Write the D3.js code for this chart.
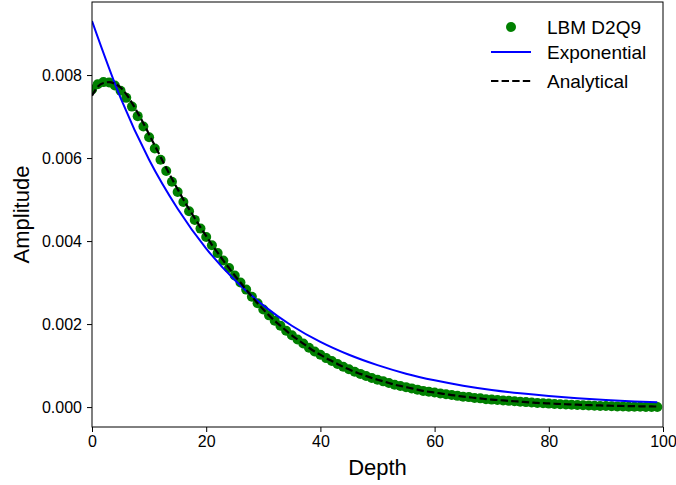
<!DOCTYPE html>
<html><head><meta charset="utf-8">
<script src="https://cdn.jsdelivr.net/npm/d3@7/dist/d3.min.js"></script>
<style>body{margin:0;background:#fff}text{font-family:"Liberation Sans",Arial,sans-serif}</style>
</head><body><svg id="c" width="676" height="485"></svg>
<script>
const depth = d3.range(0, 100);
const lbm = [0.00765,0.00778,0.00783,0.00782,0.00775,0.00762,0.00745,0.00724,0.00701,0.00676,
0.00650,0.00623,0.00596,0.00569,0.00543,0.00518,0.00494,0.00472,0.00451,0.00430,
0.00410,0.00390,0.00371,0.00353,0.00335,0.00317,0.00300,0.00283,0.00266,0.00250,
0.00235,0.00221,0.00208,0.00196,0.00184,0.00173,0.00163,0.00153,0.00143,0.00134,
0.00126,0.00118,0.00111,0.00104,0.00097,0.00091,0.00085,0.00080,0.00075,0.00070,
0.00066,0.00062,0.00058,0.00054,0.00051,0.00048,0.00045,0.00042,0.00039,0.00037,
0.00035,0.00033,0.00031,0.00029,0.00027,0.00025,0.00024,0.00022,0.00021,0.00019,
0.00018,0.00017,0.00016,0.00015,0.00014,0.00013,0.00012,0.00011,0.00010,0.000092,
0.000084,0.000076,0.000069,0.000062,0.000055,0.000049,0.000043,0.000038,0.000033,0.000028,
0.000024,0.000020,0.000016,0.000013,0.000010,0.000008,0.000006,0.000004,0.000002,0.000001];
const analytical = [0.00750,0.00772,0.00781,0.00783,0.00779,0.00770,0.00754,0.00733,0.00709,0.00684,
0.00657,0.00630,0.00603,0.00576,0.00550,0.00525,0.00500,0.00477,0.00455,0.00433,
0.00412,0.00391,0.00372,0.00353,0.00335,0.00317,0.00300,0.00283,0.00266,0.00250,
0.00235,0.00221,0.00208,0.00196,0.00184,0.00173,0.00163,0.00153,0.00143,0.00134,
0.00126,0.00118,0.00111,0.00104,0.00097,0.00091,0.00085,0.00080,0.00075,0.00070,
0.00066,0.00062,0.00058,0.00054,0.00051,0.00048,0.00045,0.00042,0.00039,0.00037,
0.00035,0.00033,0.00031,0.00029,0.00027,0.00025,0.00024,0.00022,0.00021,0.00019,
0.00018,0.00017,0.00016,0.00015,0.00014,0.00013,0.00012,0.00011,0.00010,0.000094,
0.000087,0.000080,0.000074,0.000068,0.000062,0.000057,0.000052,0.000047,0.000043,0.000039,
0.000035,0.000032,0.000029,0.000026,0.000023,0.000021,0.000019,0.000017,0.000015,0.000013];
const expDepth = [0,5,10,15,20,25,30,35,40,45,50,55,60,65,70,75,80,85,90,95,99];
const expVals = [0.00930,0.00745,0.00596,0.00478,0.00382,0.00306,0.00245,0.00196,0.00157,0.00126,
0.00101,0.000805,0.000645,0.000516,0.000413,0.000331,0.000265,0.000212,0.000170,0.000136,0.000114];
const xTicks = [0,20,40,60,80,100];
const yTicks = [0,0.002,0.004,0.006,0.008];
const legendLabels = ["LBM D2Q9","Exponential","Analytical"];

const svg = d3.select("#c");
const L = 92, R = 663, T = 2, B = 427;
const x = d3.scaleLinear().domain([0,100]).range([L,R]);
const y = d3.scaleLinear().domain([-0.00048,0.00976]).range([B,T]);

svg.append("defs").append("clipPath").attr("id","clip")
  .append("rect").attr("x",L).attr("y",T).attr("width",R-L).attr("height",B-T);
const g = svg.append("g").attr("clip-path","url(#clip)");

g.selectAll("circle").data(depth).enter().append("circle")
  .attr("cx",d=>x(d)).attr("cy",(d,i)=>y(lbm[i])).attr("r",5).attr("fill","#008000");
g.append("path").datum(expDepth.map((d,i)=>[d,expVals[i]]))
  .attr("d",d3.line().x(d=>x(d[0])).y(d=>y(d[1])).curve(d3.curveMonotoneX))
  .attr("fill","none").attr("stroke","#0000ff").attr("stroke-width",2);
g.append("path").datum(depth.map((d,i)=>[d,analytical[i]]))
  .attr("d",d3.line().x(d=>x(d[0])).y(d=>y(d[1])).curve(d3.curveMonotoneX))
  .attr("fill","none").attr("stroke","#000").attr("stroke-width",2.2).attr("stroke-dasharray","7.4,3.2");

const xa = svg.append("g").attr("transform",`translate(0,${B})`)
  .call(d3.axisBottom(x).tickValues(xTicks).tickFormat(d3.format("d")).tickSize(5).tickPadding(4));
const ya = svg.append("g").attr("transform",`translate(${L},0)`)
  .call(d3.axisLeft(y).tickValues(yTicks).tickFormat(d3.format(".3f")).tickSize(5).tickPadding(5));
[xa,ya].forEach(a=>{a.select(".domain").remove();
  a.selectAll("text").attr("font-size",16).attr("fill","#000").style("font-family","Liberation Sans, Arial, sans-serif");
  a.selectAll("line").attr("stroke","#000").attr("stroke-width",1);});
svg.append("rect").attr("x",L).attr("y",T).attr("width",R-L).attr("height",B-T)
  .attr("fill","none").attr("stroke","#000").attr("stroke-width",1);

svg.append("text").attr("x",(L+R)/2).attr("y",475).attr("text-anchor","middle").attr("font-size",22).text("Depth");
svg.append("text").attr("transform",`translate(29,${(T+B)/2}) rotate(-90)`).attr("text-anchor","middle").attr("font-size",22).text("Amplitude");

const lg = svg.append("g");
const ly = [27,52,81];
lg.append("circle").attr("cx",511).attr("cy",ly[0]).attr("r",5).attr("fill","#008000");
lg.append("line").attr("x1",491).attr("x2",531).attr("y1",ly[1]).attr("y2",ly[1]).attr("stroke","#0000ff").attr("stroke-width",2);
lg.append("line").attr("x1",491).attr("x2",531).attr("y1",ly[2]).attr("y2",ly[2]).attr("stroke","#000").attr("stroke-width",2.2).attr("stroke-dasharray","7.4,3.2");
legendLabels.forEach((t,i)=>lg.append("text").attr("x",547).attr("y",ly[i]).attr("dy","0.35em").attr("font-size",19).text(t));
</script></body></html>
